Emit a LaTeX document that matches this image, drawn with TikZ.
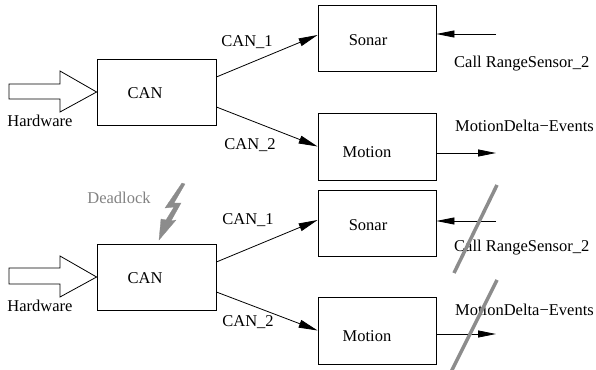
\documentclass[tikz,border=0pt]{standalone}
\usepackage{fontspec}
\setmainfont{Liberation Serif}
\usetikzlibrary{arrows.meta}
\definecolor{slashgray}{RGB}{140,140,140}
\definecolor{deadgray}{RGB}{130,130,130}
\begin{document}
\begin{tikzpicture}[x=1pt,y=-1pt,
  every node/.style={font=\fontsize{16.5}{19}\selectfont, inner sep=0pt},
  box/.style={draw, line width=0.8pt, minimum width=118pt, minimum height=66pt},
  conn/.style={line width=0.8pt, -{Triangle[length=19pt,width=8pt]}},
  sig/.style={line width=0.8pt, -{Triangle[length=18pt,width=7pt]}},
  hwarrow/.style={draw, line width=0.8pt, fill=white},
  slash/.style={draw=slashgray, line width=3.5pt},
  bolt/.style={fill=slashgray, draw=slashgray, line width=0.3pt}]
\useasboundingbox (0,0) rectangle (596,369);

% ---------- top half ----------
\node[box, minimum width=119pt] (can1) at (156.5,92) {};
\node (cantxt1) at (145,93) {CAN};
\node[box] (sonar1) at (377,38) {};
\node (sonartxt1) at (368,40) {Sonar};
\node[box, minimum height=67pt] (motion1) at (377,146.5) {};
\node (motiontxt1) at (367,152) {Motion};

\draw[hwarrow] (9,84) -- (60,84) -- (60,71) -- (can1.west) -- (60,112) -- (60,99) -- (9,99) -- cycle;
\node (hw1) at (40,121) {Hardware};

\draw[conn] ([yshift=15pt]can1.east) -- ([yshift=3pt]sonar1.west);
\draw[conn] ([yshift=-15pt]can1.east) -- (motion1.west);
\node (can1lbl1) at (247,42) {CAN\_1};
\node (can1lbl2) at (250,145) {CAN\_2};

\coordinate (src1) at (496,34);
\draw[sig] (src1) -- (sonar1.east |- src1);
\coordinate (dst1) at (496,153);
\draw[sig] (motion1.east |- dst1) -- (dst1);
\node[anchor=west] (call1) at (454,64) {Call RangeSensor\_2};
\node[anchor=west] (ev1) at (455,126) {MotionDelta−Events};

% ---------- bottom half ----------
\node[box, minimum width=119pt] (can2) at (156.5,277) {};
\node (cantxt2) at (145,278) {CAN};
\node[box] (sonar2) at (377,223) {};
\node (sonartxt2) at (368,225) {Sonar};
\node[box, minimum height=67pt] (motion2) at (377,330.5) {};
\node (motiontxt2) at (367,336) {Motion};

\draw[hwarrow] (9,268) -- (60,268) -- (60,256) -- (can2.west) -- (60,297) -- (60,284) -- (9,284) -- cycle;
\node (hw2) at (40,306) {Hardware};

\draw[conn] ([yshift=15pt]can2.east) -- ([yshift=3pt]sonar2.west);
\draw[conn] ([yshift=-15pt]can2.east) -- (motion2.west);
\node (can2lbl1) at (248,220) {CAN\_1};
\node (can2lbl2) at (248,322) {CAN\_2};

\coordinate (src2) at (496,221);
\draw[sig] (src2) -- (sonar2.east |- src2);
\coordinate (dst2) at (496,334);
\draw[sig] (motion2.east |- dst2) -- (dst2);
\node[anchor=west] (call2) at (454,248) {Call RangeSensor\_2};
\node[anchor=west] (ev2) at (455,310) {MotionDelta−Events};

% blocked signals
\draw[slash] (454,273) -- (497,185);
\draw[slash] (451,372) -- (497,280);

% deadlock
\node[text=deadgray] (dead) at (119,198) {Deadlock};
\path[bolt] (182,183) -- (185,184) -- (174,203) -- (181,203) -- (171,221) -- (176,220)
  -- (159,240) -- (161,219) -- (166,220) -- (174,207) -- (165,208) -- cycle;
\end{tikzpicture}
\end{document}
